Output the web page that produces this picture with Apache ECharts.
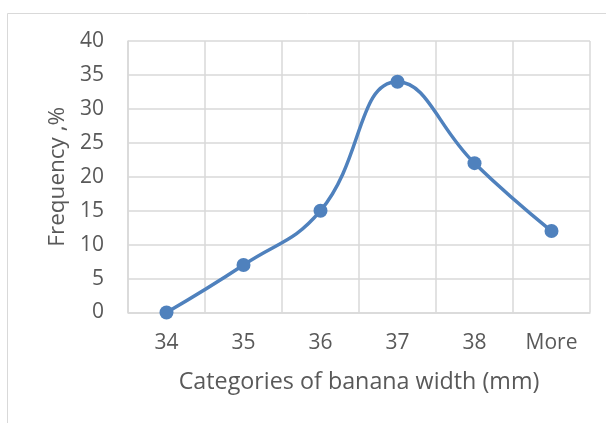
<!DOCTYPE html>
<html>
<head>
<meta charset="utf-8">
<script src="https://cdn.jsdelivr.net/npm/echarts@6/dist/echarts.min.js"></script>
<style>
  html, body { margin: 0; padding: 0; background: #fff; }
  #chart { width: 606px; height: 423px; }
</style>
</head>
<body>
<div id="chart"></div>
<script>
// Banana width categories and their frequency (%)
const categories = ['34', '35', '36', '37', '38', 'More'];
const frequency = [0, 7, 15, 34, 22, 12];
const yTicks = { min: 0, max: 40, interval: 5 };

const textColor = '#595959';
const gridColor = '#d9d9d9';
const lineColor = '#4f81bd';
const fontFamily = '"Open Sans", "Noto Sans", sans-serif';

const chart = echarts.init(document.getElementById('chart'), null, { renderer: 'canvas' });
chart.setOption({
  animation: false,
  backgroundColor: '#fff',
  graphic: [{
    type: 'rect',
    shape: { x: 7.5, y: 13.5, width: 640, height: 440 },
    style: { fill: 'none', stroke: '#d9d9d9', lineWidth: 1 },
    silent: true
  }],
  grid: { left: 128, right: 16, top: 41, bottom: 110.5, containLabel: false },
  xAxis: {
    type: 'category',
    data: categories,
    boundaryGap: true,
    name: 'Categories of banana width (mm)',
    nameLocation: 'middle',
    nameGap: 58,
    nameTextStyle: { color: textColor, fontSize: 23.3, fontFamily },
    axisLine: { show: true, lineStyle: { color: gridColor, width: 1.5 } },
    axisTick: { show: false },
    axisLabel: { color: textColor, fontSize: 21, fontFamily, margin: 20 },
    splitLine: { show: true, lineStyle: { color: gridColor, width: 1.5 } }
  },
  yAxis: {
    type: 'value',
    min: yTicks.min,
    max: yTicks.max,
    interval: yTicks.interval,
    name: 'Frequency ,%',
    nameLocation: 'middle',
    nameGap: 58,
    nameTextStyle: { color: textColor, fontSize: 22.5, fontFamily },
    axisLine: { show: true, lineStyle: { color: gridColor, width: 1.5 } },
    axisTick: { show: false },
    axisLabel: { color: textColor, fontSize: 21, fontFamily, margin: 24 },
    splitLine: { show: true, lineStyle: { color: gridColor, width: 1.5 } }
  },
  series: [{
    type: 'line',
    data: frequency,
    smooth: 0.45,
    symbol: 'circle',
    symbolSize: 14,
    lineStyle: { color: lineColor, width: 3.5 },
    itemStyle: { color: lineColor }
  }]
});
</script>
</body>
</html>
